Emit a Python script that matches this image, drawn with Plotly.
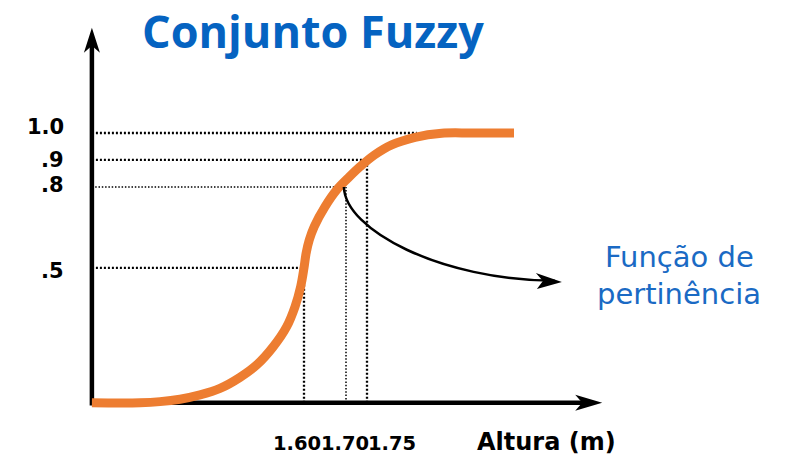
import numpy as np
import plotly.graph_objects as go

# Membership curve of the fuzzy set: height (m) -> degree of membership
altura = [1.095, 1.2095, 1.2571, 1.3048, 1.3524, 1.400, 1.4476, 1.4874, 1.5269,
          1.5588, 1.5786, 1.592, 1.600, 1.605, 1.6125, 1.6243, 1.6501, 1.6779,
          1.7058, 1.7334, 1.7672, 1.8088, 1.8643, 1.9279, 1.9993, 2.100]
grau = [0.0, 0.0, 0.004, 0.013, 0.029, 0.053, 0.094, 0.140, 0.208,
        0.282, 0.356, 0.430, 0.500, 0.554, 0.603, 0.653, 0.727, 0.789,
        0.834, 0.875, 0.918, 0.956, 0.984, 0.999, 1.0, 1.0]

# Highlighted heights with their membership degrees
ref_alturas = [1.60, 1.70, 1.75]
ref_graus = [0.5, 0.8, 0.9]
x_tick_text = ["1.60", "1.70", "1.75"]

# Degrees marked on the vertical axis
y_ticks = [1.0, 0.9, 0.8, 0.5]
y_tick_text = ["1.0", ".9", ".8", ".5"]

# Axis extents (data units)
X0, X_MAX = altura[0], 2.31
Y0, Y_MAX = 0.0, 1.39
X_RANGE = [0.8762, 2.7476]
Y_RANGE = [-0.2013, 1.4931]

ORANGE = "#ED7D31"
BLUE = "#0563C1"
CAPTION_BLUE = "#1A6AC4"
LABEL_FONT = "DejaVu Sans"

fig = go.Figure()

fig.add_trace(go.Scatter(
    x=altura, y=grau, mode="lines",
    line=dict(color=ORANGE, width=9, shape="spline", smoothing=1.0),
    hoverinfo="skip", showlegend=False,
))

shapes = []

# dotted guides: horizontal from the y axis to the curve
g_inc = grau[1:-1]
a_inc = altura[1:-1]
for v in y_ticks:
    if v in ref_graus:
        x_end = ref_alturas[ref_graus.index(v)]
    else:
        x_end = float(np.interp(0.985, g_inc, a_inc))
    thin = (v == 0.8)
    shapes.append(dict(
        type="line", xref="x", yref="y", x0=X0, x1=x_end, y0=v, y1=v,
        line=dict(color="black", width=1.5 if thin else 2.3,
                  dash="1.5px,1.8px" if thin else "2px,2px"),
        layer="below",
    ))

# dotted guides: vertical from the x axis up to the curve
for xa, g in zip(ref_alturas, ref_graus):
    thin = (xa == 1.70)
    shapes.append(dict(
        type="line", xref="x", yref="y", x0=xa, x1=xa, y0=Y0, y1=g,
        line=dict(color="black", width=1.5 if thin else 2.3,
                  dash="1.5px,1.8px" if thin else "2px,2px"),
        layer="below",
    ))

# axes with arrowheads
shapes.append(dict(type="line", xref="x", yref="y", x0=X0, x1=X_MAX - 0.03,
                   y0=Y0, y1=Y0, line=dict(color="black", width=4.5), layer="below"))
shapes.append(dict(type="line", xref="x", yref="y", x0=X0, x1=X0,
                   y0=Y0 - 0.01, y1=Y_MAX - 0.06, line=dict(color="black", width=4.5),
                   layer="below"))
shapes.append(dict(type="path", xref="x", yref="y", xsizemode="pixel", ysizemode="pixel",
                   xanchor=X_MAX, yanchor=Y0,
                   path="M0,0 L-27,8 L-20,0 L-27,-8 Z",
                   fillcolor="black", line=dict(width=0), layer="below"))
shapes.append(dict(type="path", xref="x", yref="y", xsizemode="pixel", ysizemode="pixel",
                   xanchor=X0, yanchor=Y_MAX,
                   path="M0,0 L-8,-25 L0,-18 L8,-25 Z",
                   fillcolor="black", line=dict(width=0), layer="below"))

# curved pointer from the curve to the caption
p0 = (1.695, 0.80)
p1 = (1.698, 0.64)
p2 = (1.924, 0.455)
p3 = (2.197, 0.452)
tip = (2.214, 0.4475)
shapes.append(dict(
    type="path", xref="x", yref="y",
    path=f"M{p0[0]},{p0[1]} C{p1[0]},{p1[1]} {p2[0]},{p2[1]} {p3[0]},{p3[1]}",
    line=dict(color="black", width=2.5), layer="above",
))
shapes.append(dict(type="path", xref="x", yref="y", xsizemode="pixel", ysizemode="pixel",
                   xanchor=tip[0], yanchor=tip[1],
                   path="M0,0 L-26,9 L-19,1 L-25,-7 Z",
                   fillcolor="black", line=dict(width=0), layer="above"))

annotations = []

# y labels
y_shift = {1.0: 6, 0.9: 0, 0.8: 2, 0.5: -3}
for v, t in zip(y_ticks, y_tick_text):
    annotations.append(dict(
        x=66 / 786, xref="paper", xanchor="right", y=v, yref="y", yanchor="middle",
        yshift=y_shift[v], text=f"<b>{t}</b>", showarrow=False,
        font=dict(family=LABEL_FONT, size=21, color="black"),
    ))

# x labels
x_shift = [-7, -1, 25]
for xa, t, s in zip(ref_alturas, x_tick_text, x_shift):
    annotations.append(dict(
        x=xa, xref="x", xanchor="center", xshift=s,
        y=1 - 443 / 457, yref="paper", yanchor="middle",
        text=f"<b>{t}</b>", showarrow=False,
        font=dict(family=LABEL_FONT, size=19.5, color="black"),
    ))

annotations.append(dict(
    x=546.5 / 786, xref="paper", y=1 - 442 / 457, yref="paper",
    xanchor="center", yanchor="middle", text="<b>Altura (m)</b>", showarrow=False,
    font=dict(family=LABEL_FONT, size=24, color="black"),
))

# title
annotations.append(dict(
    x=313 / 786, xref="paper", y=1 - 31 / 457, yref="paper",
    xanchor="center", yanchor="middle", text="<b>Conjunto Fuzzy</b>", showarrow=False,
    font=dict(family="Open Sans", size=45, color=BLUE),
))

# caption of the pointer
for line, ypx in (("Função de", 257), ("pertinência", 294)):
    annotations.append(dict(
        x=679 / 786, xref="paper", y=1 - ypx / 457, yref="paper",
        xanchor="center", yanchor="middle", text=line, showarrow=False,
        font=dict(family=LABEL_FONT, size=29, color=CAPTION_BLUE),
    ))

fig.update_layout(
    width=786, height=457,
    margin=dict(l=0, r=0, t=0, b=0),
    paper_bgcolor="white", plot_bgcolor="white",
    xaxis=dict(range=X_RANGE, visible=False, fixedrange=True),
    yaxis=dict(range=Y_RANGE, visible=False, fixedrange=True),
    shapes=shapes, annotations=annotations,
    showlegend=False,
)

fig.write_html("out.html")
